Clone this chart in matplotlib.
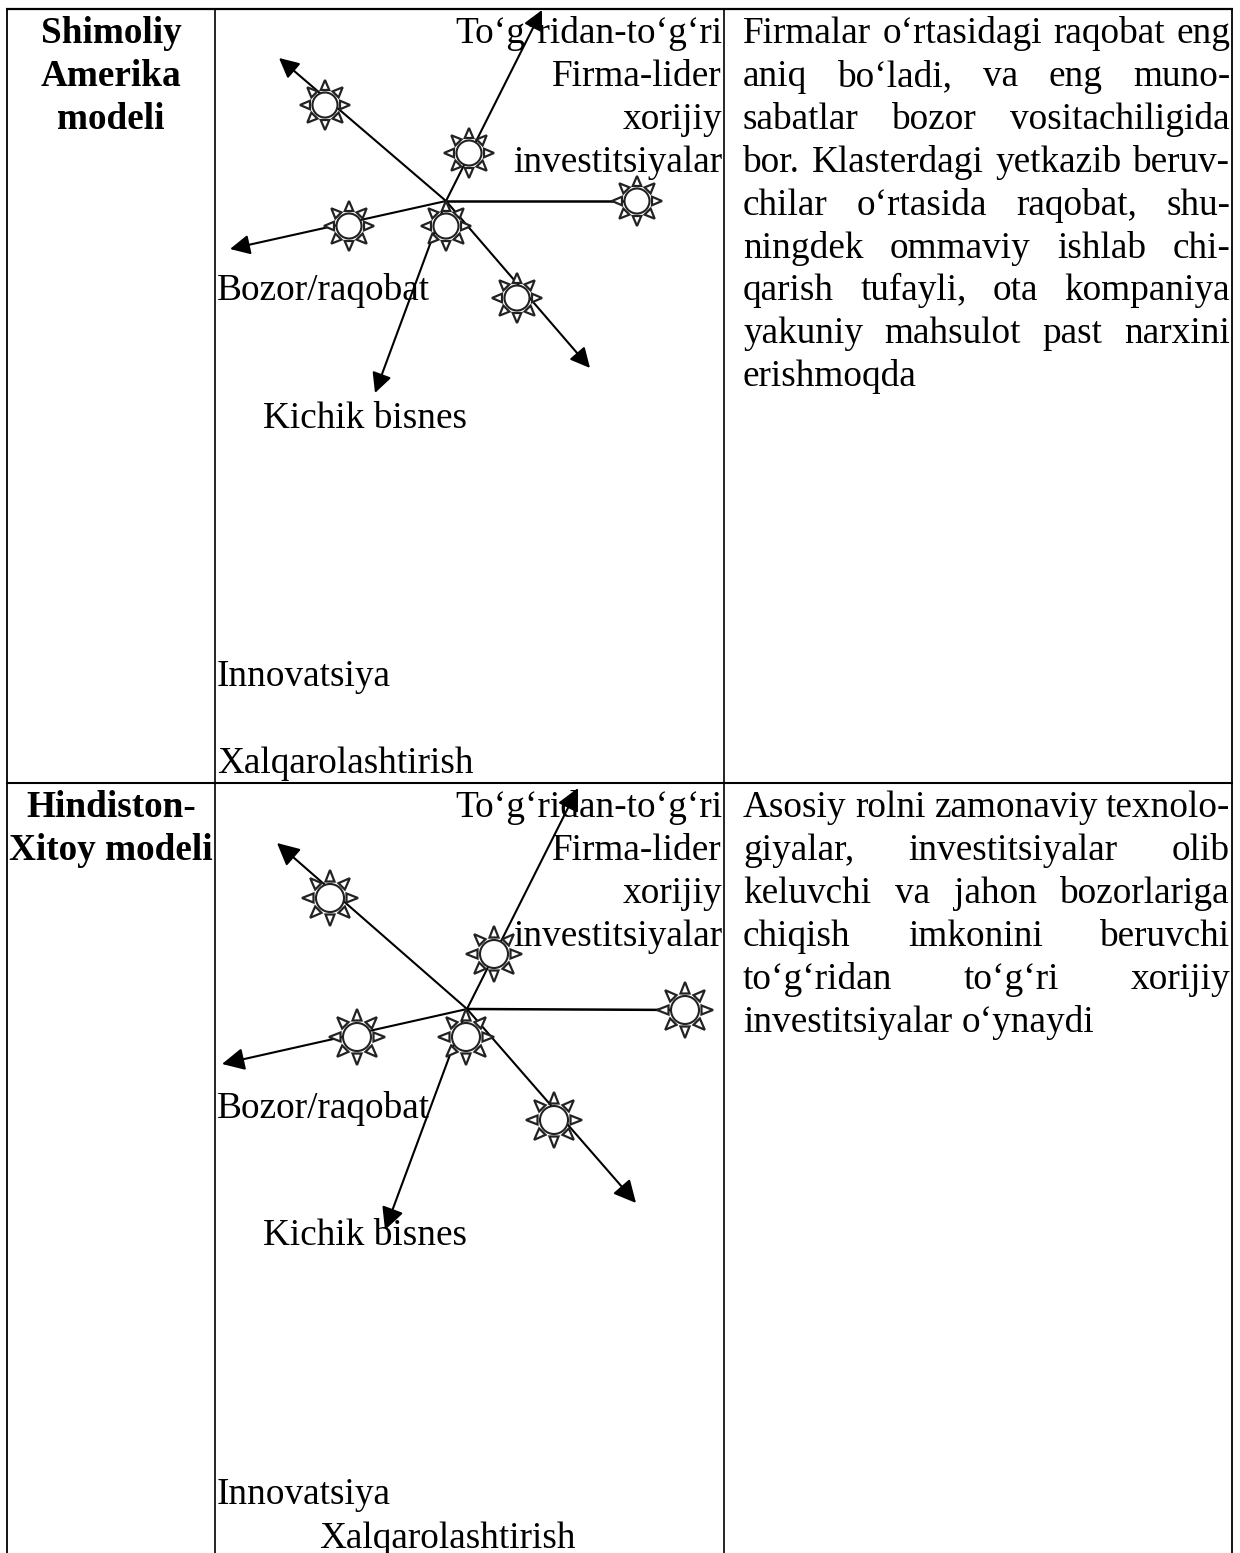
import numpy as np
import matplotlib
matplotlib.use("Agg")
import matplotlib.pyplot as plt
from matplotlib.patches import Circle, Polygon

plt.rcParams['font.family'] = ['Liberation Serif', 'DejaVu Serif']
FONT_SIZE = 26.8

# Table text
row_titles = [["Shimoliy", "Amerika", "modeli"], ["Hindiston-", "Xitoy modeli"]]
row1_text = ["Firmalar o‘rtasidagi raqobat eng", "aniq bo‘ladi, va eng muno-",
             "sabatlar bozor vositachiligida", "bor. Klasterdagi yetkazib beruv-",
             "chilar o‘rtasida raqobat, shu-", "ningdek ommaviy ishlab chi-",
             "qarish tufayli, ota kompaniya", "yakuniy mahsulot past narxini",
             "erishmoqda"]
row2_text = ["Asosiy rolni zamonaviy texnolo-", "giyalar, investitsiyalar olib",
             "keluvchi va jahon bozorlariga", "chiqish imkonini beruvchi",
             "to‘g‘ridan to‘g‘ri xorijiy", "investitsiyalar o‘ynaydi"]
fdi_label = ["To‘g‘ridan-to‘g‘ri", "Firma-lider", "xorijiy", "investitsiyalar"]

# Free labels: text, x, baseline y (pixels of the page)
labels_row1 = [("Bozor/raqobat", 217, 300), ("Kichik bisnes", 263, 428),
               ("Innovatsiya", 217, 686), ("Xalqarolashtirish", 217, 773)]
labels_row2 = [("Bozor/raqobat", 217, 1118), ("Kichik bisnes", 263, 1245),
               ("Innovatsiya", 217, 1504), ("Xalqarolashtirish", 319, 1548)]

# Diagrams: hub, arrow tips, sun centres (pixels of the page)
hub1 = (446, 201)
tips1 = [(542, 10), (279, 58), (230, 249), (375, 393), (590, 368)]
plain_end1 = (637, 201)
suns1 = [(325, 105), (469, 153), (637, 201), (349, 226), (446, 226), (517, 298)]
hub2 = (467, 1009)
tips2 = [(578, 788), (277, 843), (222, 1064), (385, 1230), (636, 1203)]
plain_end2 = (685, 1010)
suns2 = [(330, 898), (494, 954), (685, 1010), (357, 1037), (466, 1037), (554, 1120)]


def draw_sun(ax, x, y, radius, outer):
    # 8 small triangles round a white disc
    for ang in np.arange(0, 360, 45):
        a = np.radians(ang)
        d = np.array([np.cos(a), np.sin(a)])
        n = np.array([-d[1], d[0]])
        c = np.array([x, y])
        base = c + d * (radius + 2.5)
        tip = c + d * outer
        half = 0.15 * radius + 2.4
        ax.add_patch(Polygon([base + n * half, base - n * half, tip], closed=True,
                             fc='white', ec='#222222', lw=1.6, zorder=5))
    ax.add_patch(Circle((x, y), radius, fc='white', ec='#222222', lw=1.5, zorder=6))


def draw_diagram(ax, hub, tips, plain_end, suns, radius, outer, scale):
    ax.plot([hub[0], plain_end[0]], [hub[1], plain_end[1]], color='black', lw=1.8, zorder=4)
    for tip in tips:
        ax.annotate("", xy=tip, xytext=hub,
                    arrowprops=dict(arrowstyle='-|>', color='black', lw=1.5,
                                    mutation_scale=scale, shrinkA=0, shrinkB=0),
                    zorder=4)
    for x, y in suns:
        draw_sun(ax, x, y, radius, outer)


def draw_justified(ax, fig, line, x0, x1, y, justify):
    words = line.split(" ")
    rend = fig.canvas.get_renderer()
    items = [ax.text(0, y, w, fontsize=FONT_SIZE, va='baseline', ha='left', zorder=7) for w in words]
    widths = [t.get_window_extent(rend).width for t in items]
    space = ax.text(0, y, "a a", fontsize=FONT_SIZE)
    aa = ax.text(0, y, "aa", fontsize=FONT_SIZE)
    natural = space.get_window_extent(rend).width - aa.get_window_extent(rend).width
    space.remove()
    aa.remove()
    gap = (x1 - x0 - sum(widths)) / max(len(words) - 1, 1) if justify else natural
    x = x0
    for t, w in zip(items, widths):
        t.set_x(x)
        x += w + gap


fig = plt.figure(figsize=(12.4, 15.53), dpi=100)
ax = fig.add_axes([0, 0, 1, 1])
ax.set_xlim(0, 1240)
ax.set_ylim(1553, 0)
ax.axis('off')

# Table rules
for x, lw in [(7, 1.3), (215, 1.2), (724, 1.2), (1232, 1.3)]:
    ax.plot([x, x], [8, 1553], color='black', lw=lw, zorder=8, solid_capstyle='butt')
for y, lw in [(9, 1.6), (783, 1.5)]:
    ax.plot([6, 1233], [y, y], color='black', lw=lw, zorder=8, solid_capstyle='butt')

# First column
for lines, y0 in zip(row_titles, [43, 817]):
    for i, s in enumerate(lines):
        ax.text(111, y0 + i * 43, s, fontsize=FONT_SIZE, fontweight='bold',
                ha='center', va='baseline')

# Middle column
for y0 in [43, 817]:
    for i, s in enumerate(fdi_label):
        ax.text(722, y0 + i * 43, s, fontsize=FONT_SIZE, ha='right', va='baseline', zorder=3)
for s, x, y in labels_row1 + labels_row2:
    ax.text(x, y, s, fontsize=FONT_SIZE, ha='left', va='baseline', zorder=3)

draw_diagram(ax, hub1, tips1, plain_end1, suns1, 12.5, 25, 30)
draw_diagram(ax, hub2, tips2, plain_end2, suns2, 14, 28, 34)

# Right column
for i, s in enumerate(row1_text):
    draw_justified(ax, fig, s, 743, 1230, 43 + i * 42.9, i < len(row1_text) - 1)
for i, s in enumerate(row2_text):
    draw_justified(ax, fig, s, 743, 1230, 817 + i * 42.9, i < len(row2_text) - 1)

fig.savefig("out.png", dpi=100)
